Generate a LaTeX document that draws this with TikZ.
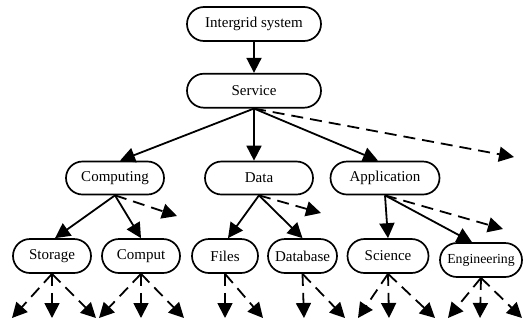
\documentclass[tikz,border=0pt]{standalone}
\usepackage{fontspec}
\setmainfont{Liberation Serif}
\usetikzlibrary{positioning, arrows.meta, shapes.misc}
\tikzset{
  box/.style={
    draw,
    rounded rectangle,
    line width=1.7pt,
    minimum height=34pt,
    inner sep=2pt,
    align=center,
    font=\fontsize{15}{17}\selectfont
  },
  link/.style={
    line width=1.8pt,
    -{Triangle[length=15pt, width=15pt]}
  },
  more/.style={
    link,
    dash pattern=on 12pt off 7pt
  }
}

\begin{document}
\begin{tikzpicture}[x=1pt, y=-1pt]
    \useasboundingbox (0,0) rectangle (524,322);

    % top of the tree
    \node[box, minimum width=138pt] (sys) at (254,24) {Intergrid system};
    \node[box, minimum width=138pt, below=31pt of sys] (srv) {Service};

    % service kinds
    \node[box, minimum width=102pt, minimum height=33pt] (comp) at (115,178) {Computing};
    \node[box, minimum width=112pt, minimum height=33pt] (data) at (259,178) {Data};
    \node[box, minimum width=113pt, minimum height=33pt] (app) at (385,178) {Application};

    % leaves
    \node[box, minimum width=82pt] (stor) at (52,256) {Storage};
    \node[box, minimum width=82pt] (cmpt) at (141,256) {Comput};
    \node[box, minimum width=70pt] (files) at (225,256) {Files};
    \node[box, minimum width=73pt] (db) at (302.5,256) {Database};
    \node[box, minimum width=85pt] (sci) at (388,256) {Science};
    \node[box, minimum width=86pt, font=\fontsize{13.8}{15}\selectfont] (eng) at (481,260) {Engineering};

    % open ends of the dashed links
    \coordinate (srv-x) at (514,157);
    \coordinate (comp-x) at (177,216);
    \coordinate (data-x) at (321,213);
    \coordinate (app-x) at (503,229);

    \coordinate (stor-l) at (12,318);
    \coordinate (stor-d) at (52,318);
    \coordinate (stor-r) at (96,318);
    \coordinate (cmpt-l) at (99,318);
    \coordinate (cmpt-d) at (141,318);
    \coordinate (cmpt-r) at (184,318);
    \coordinate (files-d) at (225,318);
    \coordinate (files-r) at (263,318);
    \coordinate (db-d) at (304,318);
    \coordinate (db-r) at (345,318);
    \coordinate (sci-l) at (358,318);
    \coordinate (sci-d) at (389,318);
    \coordinate (sci-r) at (435,318);
    \coordinate (eng-l) at (448,318);
    \coordinate (eng-d) at (480,318);
    \coordinate (eng-r) at (522,318);

    \draw[link] (sys) -- (srv);

    \draw[link] (srv.south) -- ([xshift=5pt]comp.north);
    \draw[link] (srv.south) -- (srv.south |- data.north);
    \draw[link] (srv.south) -- ([xshift=-7pt]app.north);
    \draw[more] (srv.south) -- (srv-x);

    \draw[link] (comp.south) -- ([xshift=3pt]stor.north);
    \draw[link] (comp.south) -- (cmpt.north);
    \draw[more] (comp.south) -- (comp-x);

    \draw[link] (data.south) -- ([xshift=3pt]files.north);
    \draw[link] (data.south) -- (db.north);
    \draw[more] (data.south) -- (data-x);

    \draw[link] (app.south) -- (sci.north);
    \draw[link] (app.south) -- ([xshift=-9pt]eng.north);
    \draw[more] (app.south) -- (app-x);

    \draw[more] (stor.south) -- (stor-l);
    \draw[more] (stor.south) -- (stor-d);
    \draw[more] (stor.south) -- (stor-r);
    \draw[more] (cmpt.south) -- (cmpt-l);
    \draw[more] (cmpt.south) -- (cmpt-d);
    \draw[more] (cmpt.south) -- (cmpt-r);
    \draw[more] (files.south) -- (files-d);
    \draw[more] (files.south) -- (files-r);
    \draw[more] (db.south) -- (db-d);
    \draw[more] (db.south) -- (db-r);
    \draw[more] (sci.south) -- (sci-l);
    \draw[more] (sci.south) -- (sci-d);
    \draw[more] (sci.south) -- (sci-r);
    \draw[more] (eng.south) -- (eng-l);
    \draw[more] (eng.south) -- (eng-d);
    \draw[more] (eng.south) -- (eng-r);
\end{tikzpicture}
\end{document}
